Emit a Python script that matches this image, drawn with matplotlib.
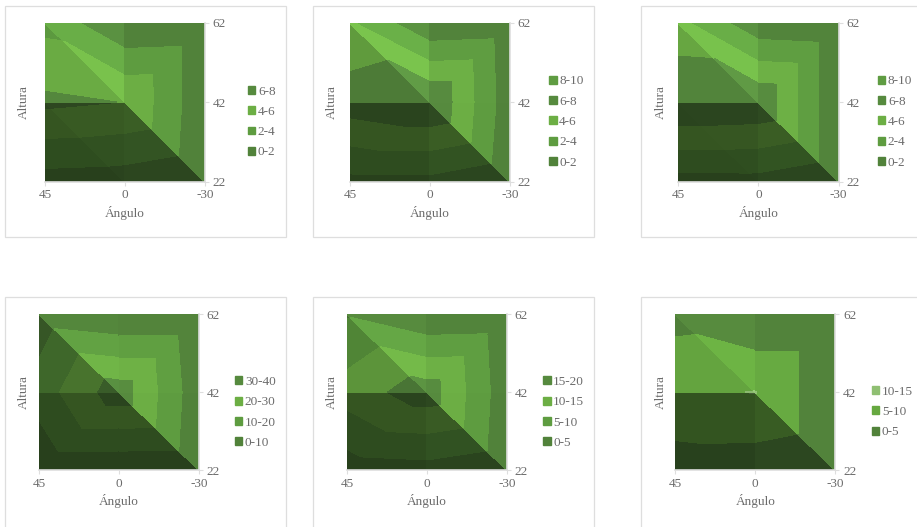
import numpy as np
import matplotlib
matplotlib.use('Agg')
import matplotlib.pyplot as plt
import matplotlib.tri as mtri
from matplotlib.colors import to_rgb
from matplotlib.patches import Patch, Rectangle

plt.rcParams['font.family'] = ['Liberation Serif', 'DejaVu Sans']

W, H = 917, 527
GREY = '#6b6b6b'
LINE = '#dedede'

ANGLES = ['45', '0', '-30']
HEIGHTS = ['22', '42', '62']

# rows go from height 22 up to 62, columns from angle 45 to -30
Z1 = [[1.1, 0.9, 0.02], [6.4, 5.95, 0.35], [3.4, 0.07, 0.3]]
Z2 = [[1.4, 1.4, 0.15], [7.1, 7.98, 0.7], [4.2, 0.14, 0.45]]
Z3 = [[1.2, 1.25, 0.1], [7.95, 7.7, 0.11], [4.57, 0.45, 0.1]]
Z4 = [[1.8, 1.5, 1.2], [14.6, 35.5, 3.0], [4.1, 0.5, 0.5]]
Z5 = [[2.3, 3.0, 0.7], [12.2, 17.7, 1.6], [4.45, 0.2, 0.7]]
Z6 = [[2.3, 2.1, 0.5], [9.3, 10.1, 0.5], [3.2, 0.5, 0.5]]

LEVELS1 = [0, 2, 4, 6, 8]
LEVELS2 = [0, 2, 4, 6, 8, 10]
LEVELS3 = [0, 2, 4, 6, 8, 10]
LEVELS4 = [0, 10, 20, 30, 40]
LEVELS5 = [0, 5, 10, 15, 20]
LEVELS6 = [0, 5, 10, 15]

BANDS = ['#51823a', '#5e9c40', '#6cae44', '#568a3e', '#5f9c42']
BANDS3 = ['#51823a', '#66a840', '#8fbf72']

# pixel layout: plot box, frame, Altura x, legend x and legend centre y
PANELS = [
    (Z1, LEVELS1, BANDS, (45, 205, 22.7, 181.7), (5, 286, 6, 237), 24, 248, 122),
    (Z2, LEVELS2, BANDS, (350, 510, 22.7, 181.7), (313, 594, 6, 237), 332, 549.3, 122),
    (Z3, LEVELS3, BANDS, (678, 838.7, 22.7, 181.7), (641, 930, 6, 237), 660.7, 878, 122),
    (Z4, LEVELS4, BANDS, (39.3, 199, 314.3, 470.3), (5, 286, 296.7, 540), 24, 235, 412.5),
    (Z5, LEVELS5, BANDS, (347, 507, 314.3, 470.3), (313, 594, 296.7, 540), 332, 543.3, 412.5),
    (Z6, LEVELS6, BANDS3, (675.3, 835.3, 314.3, 470.3), (641, 930, 296.7, 540), 660.7, 872, 412),
]


def triangles_for(z):
    # node numbering: row * 3 + col
    z = np.ravel(z)
    # the lower left cell is cut along its steeper diagonal
    if abs(z[3] - z[1]) > abs(z[0] - z[4]):
        lower_left = [[0, 1, 3], [1, 4, 3]]
    else:
        lower_left = [[0, 1, 4], [0, 4, 3]]
    return lower_left + [[1, 2, 4], [2, 5, 4], [3, 4, 6], [4, 7, 6], [4, 5, 8], [4, 8, 7]]


def shade_for(tri, xs, ys, z):
    # facet lighting, light falls from the upper right
    p = np.column_stack([xs[tri], ys[tri], np.ones(3)])
    gx, gy, _ = np.linalg.solve(p, z[tri])
    g = (-gx - gy) / z.max()
    return np.interp(g, [-0.8, -0.3, 0.15, 0.6, 0.9, 1.5], [0.49, 0.66, 0.86, 1.0, 1.0, 1.13])


def draw_panel(fig, z, levels, bands, box, frame, altura_x, leg_x, leg_y):
    x0, x1, y0, y1 = box
    fx0, fx1, fy0, fy1 = frame
    fig.add_artist(Rectangle((fx0 / W, 1 - fy1 / H), (fx1 - fx0) / W, (fy1 - fy0) / H,
                             transform=fig.transFigure, fc='white', ec=LINE, lw=0.9, zorder=-1))
    ax = fig.add_axes([x0 / W, 1 - y1 / H, (x1 - x0) / W, (y1 - y0) / H])
    ax.patch.set_alpha(0)

    xs, ys = np.meshgrid(np.arange(3.0), np.arange(3.0))
    xs, ys = xs.ravel(), ys.ravel()
    z = np.ravel(z).astype(float)
    for tri in triangles_for(z):
        tr = mtri.Triangulation(xs, ys, [tri])
        s = shade_for(np.array(tri), xs, ys, z)
        cols = [tuple(min(1, c * s) for c in to_rgb(b)) for b in bands]
        cs = ax.tricontourf(tr, z, levels=levels, colors=cols)
        cs.set_edgecolor('face')
        cs.set_linewidth(0.4)

    ax.set_xlim(0, 2)
    ax.set_ylim(0, 2)
    ax.set_xticks([0, 1, 2], ANGLES)
    ax.set_yticks([0, 1, 2], HEIGHTS)
    ax.yaxis.tick_right()
    ax.tick_params(colors=GREY, labelsize=9.5, length=3, width=0.8, color=LINE, pad=2.5)
    for side in ['top', 'left']:
        ax.spines[side].set_visible(False)
    for side in ['bottom', 'right']:
        ax.spines[side].set_color(LINE)
        ax.spines[side].set_linewidth(1.2)
    ax.set_xlabel('Ángulo', color=GREY, fontsize=9.5, labelpad=3)
    fig.text(altura_x / W, 1 - (y0 + y1) / 2 / H, 'Altura', color=GREY, fontsize=9.5,
             rotation=90, ha='center', va='center')

    labels = [f'{a}-{b}' for a, b in zip(levels[:-1], levels[1:])]
    handles = [Patch(color=c) for c in bands[:len(labels)]]
    fig.legend(handles[::-1], labels[::-1], loc='center left',
               bbox_to_anchor=(leg_x / W, 1 - leg_y / H), frameon=False, fontsize=9.5,
               labelcolor=GREY, borderpad=0, borderaxespad=0, labelspacing=0.63,
               handlelength=0.55, handleheight=0.55, handletextpad=0.2)


def main():
    fig = plt.figure(figsize=(W / 100, H / 100), dpi=100)
    for panel in PANELS:
        draw_panel(fig, *panel)
    fig.savefig('out.png', dpi=100)


if __name__ == "__main__":
    main()
